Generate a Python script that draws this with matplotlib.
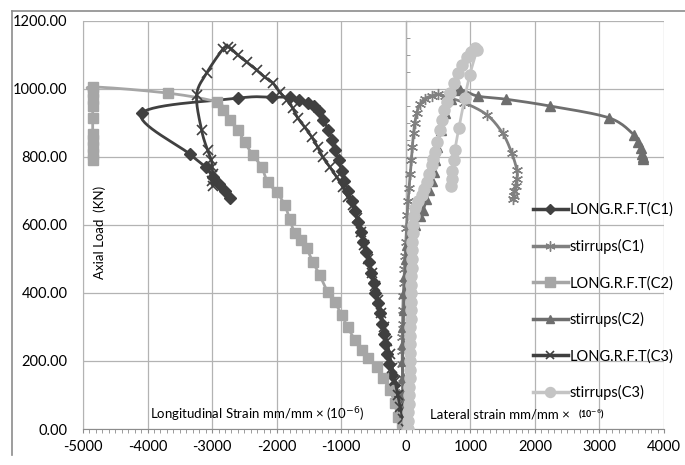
import numpy as np
import matplotlib
matplotlib.use("Agg")
import matplotlib.pyplot as plt
from matplotlib.lines import Line2D
from matplotlib.ticker import MultipleLocator, FormatStrFormatter, NullFormatter

plt.rcParams['font.family'] = ['Lato', 'DejaVu Sans']
plt.rcParams['axes.unicode_minus'] = False

# ---- data (strain in 1e-6, load in kN) ----
long_c1_x = [0, -35, -70, -100, -135, -175, -215, -255, -285, -315, -345, -370, -400, -435,
             -470, -500, -540, -575, -615, -655, -695, -735, -790, -840, -895, -950, -995,
             -1040, -1090, -1140, -1200, -1280, -1350, -1420, -1520, -1650, -1800, -2080,
             -2600, -4090, -3350, -3100, -2990, -2900, -2800, -2730]
long_c1_y = [0, 25, 50, 75, 100, 130, 160, 190, 220, 250, 280, 310, 340, 370,
             400, 430, 460, 490, 520, 550, 580, 610, 640, 670, 700, 730, 760,
             790, 820, 850, 880, 910, 935, 950, 960, 968, 975, 976,
             973, 929, 809, 770, 740, 720, 700, 680]

stir_c1_x = [0, -20, -35, -45, -50, -55, -55, -55, -50, -45, -40, -30, -20, -10, 0, 10, 20,
             35, 50, 70, 85, 100, 120, 140, 170, 220, 300, 400, 500, 600, 900, 1256, 1500,
             1643, 1721, 1720, 1700, 1680, 1670, 1660]
stir_c1_y = [0, 30, 70, 110, 150, 190, 230, 270, 310, 350, 390, 430, 470, 510, 550, 590, 630,
             670, 710, 750, 790, 830, 870, 900, 930, 955, 972, 980, 985, 978, 960, 924, 870,
             811, 761, 735, 715, 700, 685, 675]

long_c2_x = [0, -60, -124, -170, -248, -357, -450, -589, -682, -790, -900, -992, -1100, -1209,
             -1333, -1440, -1535, -1630, -1720, -1800, -1876, -2000, -2140, -2233, -2372, -2496,
             -2600, -2729, -2837, -2930, -3690, -4850, -4850, -4850, -4850, -4850, -4850,
             -4850, -4850, -4850, -4850]
long_c2_y = [0, 18, 35, 76, 115, 150, 182, 209, 232, 262, 300, 335, 374, 403,
             453, 491, 532, 555, 576, 618, 659, 697, 726, 771, 806, 844,
             879, 909, 938, 962, 988, 1006, 990, 970, 950, 915, 868,
             850, 830, 810, 790]

stir_c2_x = [0, -30, -45, -50, -50, -45, -40, -30, -20, -10, 0, 20, 80, 150, 217, 270, 320,
             357, 400, 434, 460, 480, 540, 605, 700, 837, 1116, 1550, 2230, 3150, 3535, 3600,
             3640, 3660, 3670, 3680]
stir_c2_y = [0, 50, 100, 150, 200, 250, 300, 350, 400, 450, 500, 540, 575, 600, 625, 645, 675,
             703, 730, 756, 790, 829, 880, 929, 970, 997, 979, 970, 950, 915, 865, 845,
             825, 810, 800, 795]

long_c3_x = [0, -45, -85, -125, -165, -210, -250, -295, -340, -380, -430, -480, -530, -580,
             -640, -700, -760, -822, -900, -977, -1070, -1178, -1287, -1364, -1457, -1566,
             -1674, -1752, -1845, -1953, -2062, -2186, -2310, -2465, -2600, -2700, -2760,
             -2830, -3085, -3240, -3163, -3070, -3010, -3000, -2990, -3000, -2990]
long_c3_y = [0, 30, 65, 100, 140, 180, 220, 260, 300, 340, 380, 420, 460, 500,
             540, 580, 620, 659, 682, 712, 741, 771, 800, 829, 859, 888,
             915, 944, 968, 991, 1018, 1035, 1056, 1079, 1100, 1118, 1124,
             1118, 1047, 982, 879, 820, 790, 770, 750, 730, 715]

stir_c3_x = [30, 35, 40, 45, 50, 55, 58, 60, 63, 65, 68, 70, 72, 75, 78, 80, 82, 85, 88, 90,
             93, 95, 100, 105, 110, 125, 150, 190, 250, 290, 326, 365, 403, 425, 450, 490,
             527, 560, 590, 635, 680, 740, 806, 870, 945, 1010, 1070, 1100,
             990, 915, 822, 760, 740, 720, 710, 700]
stir_c3_y = [0, 25, 50, 75, 100, 125, 150, 175, 200, 225, 250, 275, 300, 325, 350, 375,
             400, 425, 450, 475, 500, 525, 550, 575, 600, 625, 650, 670, 688, 705, 726, 750,
             776, 795, 815, 845, 879, 908, 938, 963, 988, 1018, 1047, 1072, 1094, 1110, 1120,
             1115, 1041, 974, 885, 820, 790, 760, 735, 715]

labels = ['LONG.R.F.T(C1)', 'stirrups(C1)', 'LONG.R.F.T(C2)', 'stirrups(C2)',
          'LONG.R.F.T(C3)', 'stirrups(C3)']

# pixel scale of the plot area, used so the smoothing looks like Excel's
SX = 581 / 9000.0
SY = 408 / 1200.0


def smooth(xs, ys, n=16):
    """Catmull-Rom through the points (Excel style smoothed line)."""
    p = np.column_stack([np.asarray(xs, float) * SX, np.asarray(ys, float) * SY])
    p = np.vstack([p[0], p, p[-1]])
    out = []
    t = np.linspace(0, 1, n)[:, None]
    for i in range(1, len(p) - 2):
        p0, p1, p2, p3 = p[i - 1], p[i], p[i + 1], p[i + 2]
        seg = 0.5 * (2 * p1 + (-p0 + p2) * t + (2 * p0 - 5 * p1 + 4 * p2 - p3) * t ** 2
                     + (-p0 + 3 * p1 - 3 * p2 + p3) * t ** 3)
        out.append(seg)
    out = np.vstack(out)
    return out[:, 0] / SX, out[:, 1] / SY


series = [
    (long_c1_x, long_c1_y, dict(color='#404040', marker='D', ms=6)),
    (stir_c1_x, stir_c1_y, dict(color='#808080', marker=(6, 2, 0), ms=8, mew=1.0)),
    (long_c2_x, long_c2_y, dict(color='#a6a6a6', marker='s', ms=7.5)),
    (stir_c2_x, stir_c2_y, dict(color='#6e6e6e', marker='^', ms=7)),
    (long_c3_x, long_c3_y, dict(color='#3f3f3f', marker='x', ms=7, mew=1.2)),
    (stir_c3_x, stir_c3_y, dict(color='#c4c4c4', marker='o', ms=8)),
]

fig = plt.figure(figsize=(6.85, 4.65), dpi=100)
ax = fig.add_axes([83 / 685, 36 / 465, 581 / 685, 408 / 465])

handles = []
for (xs, ys, st), lab in zip(series, labels):
    c = st['color']
    sx, sy = smooth(xs, ys)
    ax.plot(sx, sy, color=c, lw=2.0, zorder=3)
    ax.plot(xs, ys, ls='none', marker=st['marker'], ms=st['ms'], mfc=c, mec=c,
            mew=st.get('mew', 1.0), zorder=3)
    handles.append(Line2D([], [], color=c, lw=2.5, marker=st['marker'], ms=st['ms'] * 0.9,
                          mfc=c, mec=c, mew=st.get('mew', 1.0)))

ax.set_xlim(-5000, 4000)
ax.set_ylim(0, 1200)
ax.xaxis.set_major_locator(MultipleLocator(1000))
ax.xaxis.set_minor_locator(MultipleLocator(100))
ax.yaxis.set_major_locator(MultipleLocator(200))
ax.yaxis.set_major_formatter(FormatStrFormatter('%.2f'))
ax.grid(True, which='major', color='#b3b3b3', lw=0.9, zorder=0)
ax.set_axisbelow(True)

for s in ['top', 'right']:
    ax.spines[s].set_visible(False)
ax.spines['left'].set_color('#b3b3b3')
ax.spines['bottom'].set_color('#8c8c8c')
ax.tick_params(axis='y', length=0, pad=11, labelsize=10.5, colors='black')
ax.tick_params(axis='x', which='both', direction='out', length=3, color='#8c8c8c',
               labelsize=10.5, pad=5)

# vertical axis line crossing at x = 0 with its own ticks (no labels)
sec = ax.secondary_yaxis(5000 / 9000)
sec.spines['left'].set_color('#8c8c8c')
sec.yaxis.set_major_locator(MultipleLocator(200))
sec.yaxis.set_minor_locator(MultipleLocator(50))
sec.yaxis.set_major_formatter(NullFormatter())
sec.yaxis.set_minor_formatter(NullFormatter())
sec.tick_params(which='both', direction='out', length=3, color='#8c8c8c',
                labelleft=False, labelright=False)

# labels placed inside the plot area, as in the reference
fig.text(100 / 685, 1 - 232 / 465, 'Axial Load  (KN)', rotation=90, ha='center', va='center',
         fontsize=9.5)
fig.text(150 / 685, 1 - 415 / 465, 'Longitudinal Strain mm/mm \u00d7 (10$^{-6}$)',
         ha='left', va='center', fontsize=9.5)
fig.text(430 / 685, 1 - 414 / 465, 'Lateral strain mm/mm \u00d7', ha='left', va='center',
         fontsize=9.5)
fig.text(578 / 685, 1 - 414 / 465, '(10$^{-6}$)', ha='left', va='center', fontsize=6.5,
         fontweight='bold')

ax.legend(handles, labels, loc='upper left', bbox_to_anchor=(527 / 685, 1 - 197 / 465),
          bbox_transform=fig.transFigure, frameon=False, fontsize=10.5, handlelength=2.4,
          handletextpad=0.1, labelspacing=1.5, borderaxespad=0)

# outer chart border
fig.add_artist(Line2D([12 / 685, 1.0], [1 - 11 / 465, 1 - 11 / 465], color='#8c8c8c', lw=1.2))
fig.add_artist(Line2D([12 / 685, 12 / 685], [1 - 11 / 465, 1 - 455 / 465], color='#8c8c8c',
                      lw=1.2))

fig.savefig('out.png', dpi=100)
